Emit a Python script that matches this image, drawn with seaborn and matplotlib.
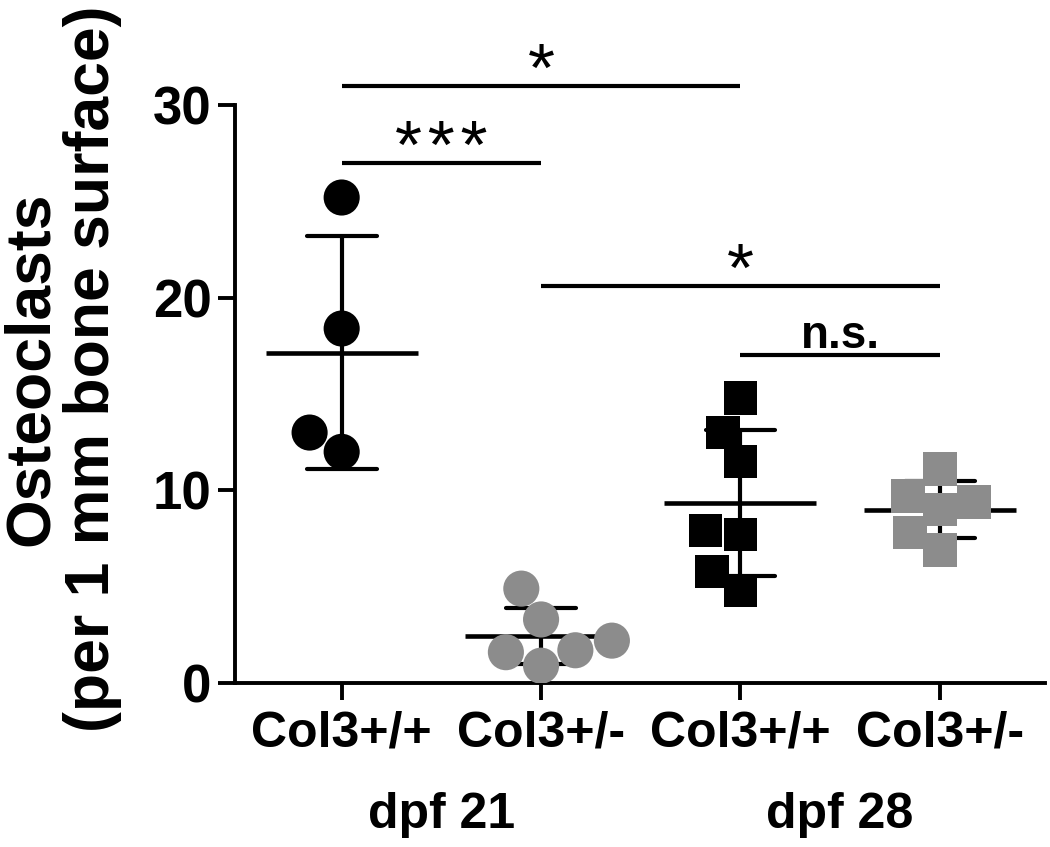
import numpy as np
import pandas as pd
import matplotlib
matplotlib.use("Agg")
import matplotlib.pyplot as plt
import seaborn as sns

# values
wt21 = [25.2, 18.4, 13.0, 12.0]
het21 = [4.9, 3.3, 2.2, 1.6, 0.9, 1.7]
wt28 = [14.8, 13.0, 11.5, 7.9, 7.7, 5.8, 4.8]
het28 = [11.1, 9.0, 9.4, 9.7, 7.8, 6.9]

groups = ["21wt", "21het", "28wt", "28het"]
genotype_labels = ["Col3+/+", "Col3+/-", "Col3+/+", "Col3+/-"]
dpf_labels = ["dpf 21", "dpf 28"]

# significance: (left group, right group, bar height, label)
sig_pairs = [(0, 2, 31.0, "*"), (0, 1, 27.0, "*\u200a*\u200a*"), (1, 3, 20.6, "*"), (2, 3, 17.0, "n.s.")]

rows = []
for g, vals in zip(groups, [wt21, het21, wt28, het28]):
    for v in vals:
        rows.append({"group": g, "value": v,
                     "dpf": g[:2], "genotype": "wt" if g.endswith("wt") else "het"})
df = pd.DataFrame(rows)

sns.set_style("ticks")
plt.rcParams["font.family"] = ["Liberation Sans", "DejaVu Sans"]
plt.rcParams["font.weight"] = "bold"
for k in ["text.color", "axes.labelcolor", "xtick.color", "ytick.color", "axes.edgecolor"]:
    plt.rcParams[k] = "black"

fig = plt.figure(figsize=(10.5, 8.47), dpi=100)
ax = fig.add_axes([0.2238, 0.1936, 0.771, 0.6824])

palette = {"wt": "black", "het": "#8c8c8c"}
sns.swarmplot(data=df[df.dpf == "21"], x="group", y="value", order=groups,
              hue="genotype", palette=palette, marker="o", size=26,
              linewidth=0, legend=False, ax=ax)
sns.swarmplot(data=df[df.dpf == "28"], x="group", y="value", order=groups,
              hue="genotype", palette=palette, marker="s", size=24,
              linewidth=0, legend=False, ax=ax)

# mean +/- SD
sns.pointplot(data=df, x="group", y="value", order=groups, errorbar="sd",
              color="black", markers="_", markersize=110, markeredgewidth=3.3,
              linestyle="none", capsize=0.35, err_kws={"linewidth": 3.0}, ax=ax)

for a, b, h, lab in sig_pairs:
    ax.plot([a, b], [h, h], color="black", lw=3.0, clip_on=False, solid_capstyle="butt")
    if lab == "n.s.":
        ax.text((a + b) / 2, h + 0.4, lab, ha="center", va="baseline",
                fontsize=33, fontweight="bold", clip_on=False)
    else:
        ax.text((a + b) / 2, h - 0.25, lab, ha="center", va="baseline",
                fontsize=50, fontweight="normal", clip_on=False)

ax.set_xlim(-0.535, 3.525)
ax.set_ylim(0, 30)
ax.set_yticks([0, 10, 20, 30])
ax.set_xticks(range(4))
ax.set_xticklabels(genotype_labels)
ax.set_xlabel("")
ax.set_ylabel("")
ax.tick_params(axis="both", labelsize=36, length=12, width=2.8, direction="out")
ax.tick_params(axis="y", labelsize=38, pad=5)
ax.tick_params(axis="x", pad=8)
for lab in ax.get_xticklabels() + ax.get_yticklabels():
    lab.set_fontweight("bold")
for s in ["left", "bottom"]:
    ax.spines[s].set_linewidth(2.8)
ax.spines["top"].set_visible(False)
ax.spines["right"].set_visible(False)

for i, lab in enumerate(dpf_labels):
    ax.text(0.5 + 2 * i, -0.228, lab, transform=ax.get_xaxis_transform(),
            ha="center", va="center", fontsize=36, fontweight="bold")

fig.text(0.059, 1 - 369 / 847, "Osteoclasts\n(per 1 mm bone surface)", rotation=90,
         ha="center", va="center", multialignment="center", fontsize=45,
         fontweight="bold", linespacing=1.03)

fig.savefig("out.png", dpi=100)
